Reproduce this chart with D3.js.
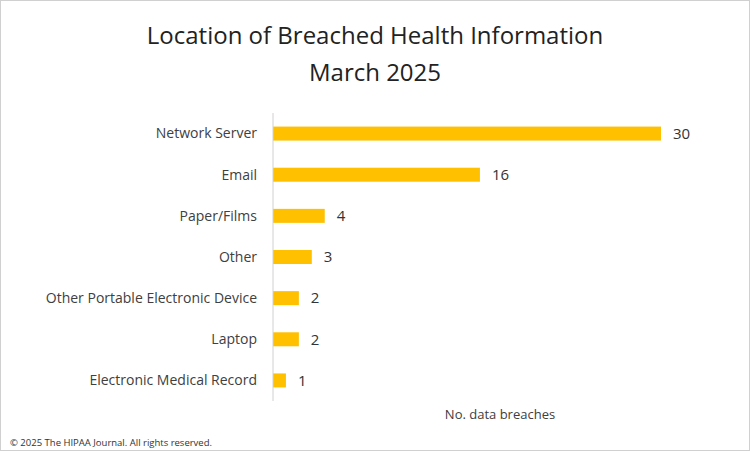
<!DOCTYPE html>
<html lang="en">
<head>
<meta charset="UTF-8" />
<script src="https://d3js.org/d3.v7.min.js"></script>
<style>
  html, body { margin: 0; padding: 0; background: #fff; font-family: 'Open Sans', sans-serif; }
  svg { display: block; }
</style>
</head>
<body>
<svg id="chart" width="750" height="451"></svg>
<script>
const categories = ["Network Server", "Email", "Paper/Films", "Other",
  "Other Portable Electronic Device", "Laptop", "Electronic Medical Record"];
const breaches = [30, 16, 4, 3, 2, 2, 1];
const titleLines = ["Location of Breached Health Information", "March 2025"];

const svg = d3.select("#chart");
svg.append("rect").attr("x", 0.5).attr("y", 0.5).attr("width", 749).attr("height", 450)
  .attr("fill", "#fff").attr("stroke", "#d0d0d0");

const x = d3.scaleLinear().domain([0, 30]).range([273, 661]);
const y = d3.scaleBand().domain(categories).range([113, 401]).paddingInner(0.66).paddingOuter(0.33);

svg.selectAll(".title").data(titleLines).join("text")
  .attr("x", 375).attr("y", (d, i) => 44 + i * 37)
  .attr("text-anchor", "middle").attr("font-size", 24).attr("fill", "#222")
  .text(d => d);

svg.selectAll(".bar").data(breaches).join("rect")
  .attr("x", x(0)).attr("y", (d, i) => y(categories[i]))
  .attr("width", d => x(d) - x(0)).attr("height", y.bandwidth())
  .attr("fill", "#FFC000");

svg.selectAll(".val").data(breaches).join("text")
  .attr("x", d => x(d) + 12).attr("y", (d, i) => y(categories[i]) + y.bandwidth() / 2)
  .attr("dy", "0.35em").attr("font-size", 15).attr("fill", "#333")
  .text(d => d);

svg.selectAll(".cat").data(categories).join("text")
  .attr("x", 257).attr("y", d => y(d) + y.bandwidth() / 2)
  .attr("dy", "0.35em").attr("text-anchor", "end").attr("font-size", 14).attr("fill", "#404040")
  .text(d => d);

svg.append("line").attr("x1", x(0)).attr("x2", x(0)).attr("y1", 113).attr("y2", 401)
  .attr("stroke", "#d0d0d0");

svg.append("text").attr("x", 500).attr("y", 419).attr("text-anchor", "middle")
  .attr("font-size", 13).attr("fill", "#404040").text("No. data breaches");

svg.append("text").attr("x", 10).attr("y", 446).attr("font-size", 9.5).attr("fill", "#333")
  .text("© 2025 The HIPAA Journal. All rights reserved.");
</script>
</body>
</html>
